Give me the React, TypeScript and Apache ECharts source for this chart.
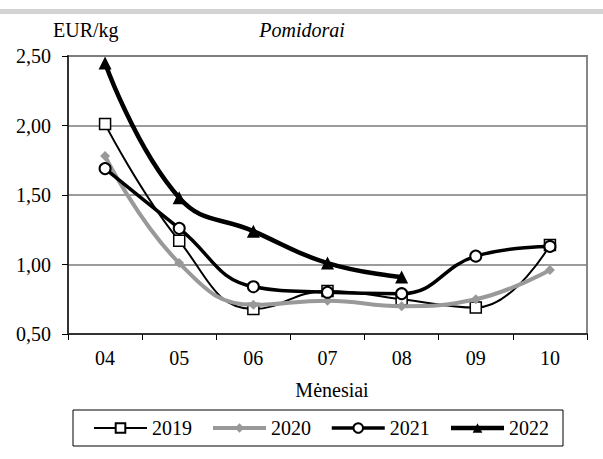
import React, { useEffect, useRef } from "react";
import * as echarts from "echarts";

const months = ["04", "05", "06", "07", "08", "09", "10"];
const s2019 = [2.01, 1.17, 0.68, 0.81, 0.75, 0.69, 1.14];
const s2020 = [1.78, 1.01, 0.71, 0.74, 0.7, 0.75, 0.96];
const s2021 = [1.69, 1.26, 0.84, 0.8, 0.79, 1.06, 1.13];
const s2022 = [2.45, 1.48, 1.24, 1.01, 0.91, null, null];
const seriesNames = ["2019", "2020", "2021", "2022"];
const lineWidths = [2, 4, 3.5, 4.5];

const FONT = "Liberation Serif";

export default function App() {
  const ref = useRef<HTMLDivElement>(null);
  useEffect(() => {
    if (!ref.current) return;
    const chart = echarts.init(ref.current, null, { renderer: "svg" });
    const smooth = 0.45;
    chart.setOption({
      animation: false,
      backgroundColor: "#fff",
      textStyle: { fontFamily: FONT },
      graphic: [
        { type: "rect", shape: { x: 0, y: 9, width: 603, height: 5 }, style: { fill: "#d3d3d3" } },
        { type: "text", x: 53, y: 30, style: { text: "EUR/kg", fontFamily: FONT, fontSize: 20, fill: "#000", verticalAlign: "middle" } },
        { type: "text", x: 302, y: 30, style: { text: "Pomidorai", fontFamily: FONT, fontSize: 20, fontStyle: "italic", fill: "#000", align: "center", verticalAlign: "middle" } },
        { type: "text", x: 332, y: 390, style: { text: "Mėnesiai", fontFamily: FONT, fontSize: 20, fill: "#000", align: "center", verticalAlign: "middle" } },
      ],
      grid: {
        left: 68,
        right: 16,
        top: 56,
        bottom: 125,
        show: true,
        borderColor: "#888",
        borderWidth: 2,
      },
      legend: {
        data: seriesNames.map((n, i) => ({ name: n, lineStyle: { width: lineWidths[i] } })),
        left: 73,
        top: 410,
        padding: [8, 14, 8, 20],
        itemGap: 19,
        itemWidth: 53,
        itemHeight: 12,
        borderColor: "#000",
        borderWidth: 1,
        textStyle: { fontFamily: FONT, fontSize: 20, color: "#000" },
      },
      xAxis: {
        type: "category",
        data: months,
        boundaryGap: true,
        axisLine: { lineStyle: { color: "#333", width: 2 } },
        axisTick: { show: true, length: 6, lineStyle: { color: "#000", width: 1 } },
        axisLabel: { color: "#000", fontSize: 20, fontFamily: FONT, margin: 14 },
        splitLine: { show: false },
      },
      yAxis: {
        type: "value",
        min: 0.5,
        max: 2.5,
        interval: 0.5,
        axisLine: { show: true, lineStyle: { color: "#333", width: 2 } },
        axisTick: { show: true, length: 6, lineStyle: { color: "#000", width: 1 } },
        axisLabel: {
          color: "#000",
          fontSize: 20,
          fontFamily: FONT,
          margin: 17,
          formatter: (v: number) => v.toFixed(2).replace(".", ","),
        },
        splitLine: { show: true, lineStyle: { color: "#7a7a7a", width: 1.5 } },
      },
      series: [
        {
          name: "2019",
          type: "line",
          data: s2019,
          smooth,
          symbol: "rect",
          symbolSize: 11,
          lineStyle: { color: "#000", width: lineWidths[0] },
          itemStyle: { color: "#fff", borderColor: "#000", borderWidth: 1.5 },
          z: 2,
        },
        {
          name: "2020",
          type: "line",
          data: s2020,
          smooth,
          symbol: "diamond",
          symbolSize: 10,
          lineStyle: { color: "#999", width: lineWidths[1] },
          itemStyle: { color: "#999", borderColor: "#999", borderWidth: 0 },
          z: 3,
        },
        {
          name: "2021",
          type: "line",
          data: s2021,
          smooth,
          symbol: "circle",
          symbolSize: 11,
          lineStyle: { color: "#000", width: lineWidths[2] },
          itemStyle: { color: "#fff", borderColor: "#000", borderWidth: 2 },
          z: 4,
        },
        {
          name: "2022",
          type: "line",
          data: s2022,
          smooth,
          symbol: "triangle",
          symbolSize: 13,
          lineStyle: { color: "#000", width: lineWidths[3] },
          itemStyle: { color: "#000", borderColor: "#000", borderWidth: 0 },
          z: 5,
        },
      ],
    });
    return () => chart.dispose();
  }, []);
  return (
    <div
      ref={ref}
      style={{ position: "fixed", left: 0, top: 0, width: 603, height: 459, background: "#fff" }}
    />
  );
}
